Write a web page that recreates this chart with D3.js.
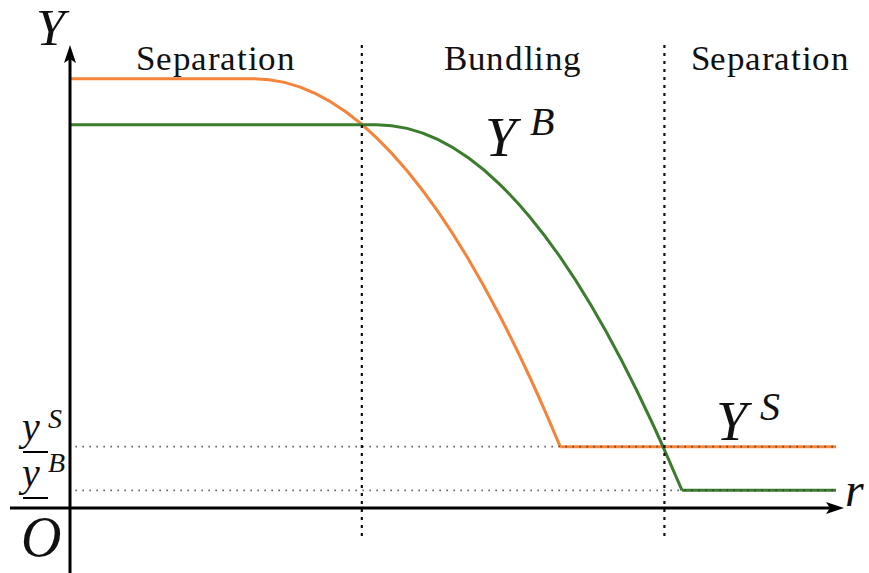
<!DOCTYPE html>
<html>
<head>
<meta charset="utf-8">
<script src="https://cdn.jsdelivr.net/npm/d3@7/dist/d3.min.js"></script>
<style>
  @font-face {
    font-family: "ChartSerif";
    src: local("Liberation Serif"), local("LiberationSerif"), local("Times New Roman"), local("DejaVu Serif");
    font-style: normal;
  }
  @font-face {
    font-family: "ChartSerif";
    src: local("Liberation Serif Italic"), local("LiberationSerif-Italic"), local("Times New Roman Italic"), local("DejaVu Serif Italic");
    font-style: italic;
  }
  svg text { font-family: "ChartSerif", "Liberation Serif", "Times New Roman", "DejaVu Serif", serif; fill: #111; }
</style>
</head>
<body style="margin:0">
<svg id="chart" width="869" height="573"></svg>
<script>
// Regions along r, separated by the dotted thresholds
const regionLabels = ["Separation", "Bundling", "Separation"];
const regionBounds = [0, 38.1, 77.6, 100];

// Price floors for each regime
const floorS = 8;
const floorB = 2.3;

// Y^S (separation) curve: plateau, concave fall, then floor
const seriesS_r = [0, 24, 28, 32, 36, 40, 44, 48, 52, 56, 60, 62, 64];
const seriesS_y = [56, 56, 55.52, 54.08, 51.68, 48.32, 44.0, 38.72, 32.48, 25.28, 17.12, 12.68, 8];

// Y^B (bundling) curve: plateau, concave fall, then floor
const seriesB_r = [0, 40, 44, 48, 52, 56, 60, 64, 68, 72, 76, 78, 79.9];
const seriesB_y = [50, 50, 49.52, 48.08, 45.68, 42.32, 38.0, 32.72, 26.48, 19.28, 11.12, 6.68, 2.3];

const rMax = 100;

const svg = d3.select("#chart");
const x = d3.scaleLinear().domain([0, 100]).range([70, 836]);
const y = d3.scaleLinear().domain([0, 60]).range([508, 48]);

const orange = "#f5843a";
const green = "#3b7d2d";

function serifText(t, px, py, size, italic) {
  return svg.append("text").attr("x", px).attr("y", py).attr("font-size", size)
    .attr("font-style", italic ? "italic" : "normal")
    .text(t);
}

// curves
function drawSeries(rs, ys, floorVal, color) {
  const pts = rs.map((r, i) => [x(r), y(ys[i])]);
  const line = d3.line().curve(d3.curveMonotoneX);
  svg.append("path").attr("d", line(pts))
    .attr("fill", "none").attr("stroke", color).attr("stroke-width", 3);
  const last = rs[rs.length - 1];
  svg.append("path")
    .attr("d", d3.line()([[x(last), y(floorVal)], [x(rMax), y(floorVal)]]))
    .attr("fill", "none").attr("stroke", color).attr("stroke-width", 3);
}
drawSeries(seriesS_r, seriesS_y, floorS, orange);
drawSeries(seriesB_r, seriesB_y, floorB, green);

// dotted guides for the floors, drawn over the flat parts
[floorS, floorB].forEach(v => {
  svg.append("line")
    .attr("x1", x(0.7)).attr("x2", x(rMax))
    .attr("y1", y(v)).attr("y2", y(v))
    .attr("stroke", "#333").attr("stroke-width", 1.6)
    .attr("stroke-opacity", 0.75)
    .attr("stroke-dasharray", "1.6,5.4");
});

// vertical region thresholds
regionBounds.slice(1, -1).forEach(b => {
  svg.append("line")
    .attr("x1", x(b)).attr("x2", x(b))
    .attr("y1", 45).attr("y2", 541)
    .attr("stroke", "#111").attr("stroke-width", 2.2)
    .attr("stroke-dasharray", "3,5");
});

// region labels
regionLabels.forEach((t, i) => {
  const cx = i === 2 ? 770 : (x(regionBounds[i]) + x(regionBounds[i + 1])) / 2;
  serifText(t, cx, 70, 35, false)
    .attr("text-anchor", "middle").attr("letter-spacing", 0.6);
});

// axes with arrowheads
svg.append("line").attr("x1", x(0)).attr("x2", x(0))
  .attr("y1", 573).attr("y2", 58).attr("stroke", "#000").attr("stroke-width", 3);
svg.append("path")
  .attr("d", `M${x(0)},45 L${x(0) - 6},63 L${x(0)},59 L${x(0) + 6},63 Z`)
  .attr("fill", "#000");
svg.append("line").attr("x1", 10).attr("x2", 832)
  .attr("y1", y(0)).attr("y2", y(0)).attr("stroke", "#000").attr("stroke-width", 3);
svg.append("path")
  .attr("d", `M844,${y(0)} L826,${y(0) - 6} L830,${y(0)} L826,${y(0) + 6} Z`)
  .attr("fill", "#000");

// math labels
serifText("Y", 36, 45, 52, true);
serifText("Y", 485, 156, 56, true);
serifText("B", 530, 135, 40, true);
serifText("Y", 716, 440, 56, true);
serifText("S", 760, 420, 40, true);
serifText("O", 21, 556, 56, true);
serifText("r", 845, 506, 48, true);

// underlined lower bounds on the Y axis
function boundLabel(sup, by, uy, sy) {
  serifText("y", 22, by, 40, true);
  svg.append("line").attr("x1", 23).attr("x2", 48).attr("y1", uy).attr("y2", uy)
    .attr("stroke", "#000").attr("stroke-width", 2);
  serifText(sup, 48, sy, 28, true);
}
boundLabel("S", 440, 452, 428);
boundLabel("B", 486, 498, 472);
</script>
</body>
</html>
